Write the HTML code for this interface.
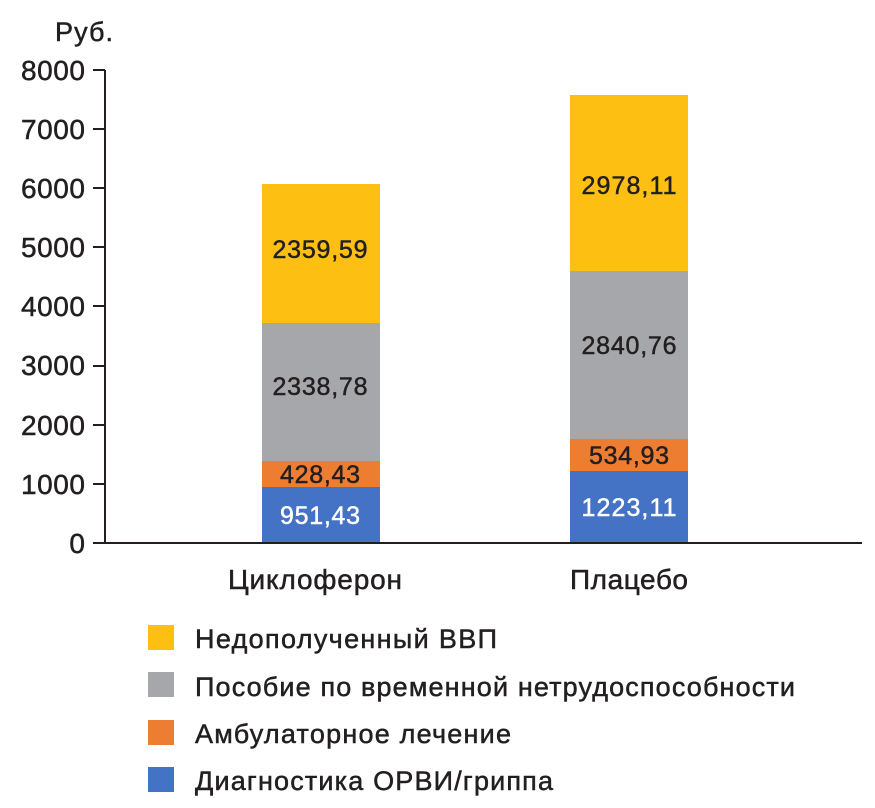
<!DOCTYPE html>
<html><head><meta charset="utf-8"><style>
body{margin:0;background:#fff;}
svg text{font-family:"Liberation Sans",sans-serif;fill:#231f20;stroke:#231f20;stroke-width:0.5;}
svg text.w{fill:#fff;stroke:#fff;}
</style></head><body>
<svg width="875" height="803" viewBox="0 0 875 803" xmlns="http://www.w3.org/2000/svg">
<text x="55" y="41" font-size="27" textLength="58">Руб.</text>
<g font-size="28" text-anchor="end">
<text x="85" y="80" textLength="64">8000</text><text x="85" y="139" textLength="64">7000</text><text x="85" y="198" textLength="64">6000</text>
<text x="85" y="257" textLength="64">5000</text><text x="85" y="316" textLength="64">4000</text><text x="85" y="375" textLength="64">3000</text>
<text x="85" y="435" textLength="64">2000</text><text x="85" y="494" textLength="64">1000</text><text x="85" y="553">0</text>
</g>
<g stroke="#231f20" stroke-width="2">
<line x1="105" y1="70" x2="105" y2="543"/>
<line x1="93" y1="543" x2="862" y2="543"/>
<line x1="93" y1="70" x2="105" y2="70"/><line x1="93" y1="129" x2="105" y2="129"/>
<line x1="93" y1="188" x2="105" y2="188"/><line x1="93" y1="247" x2="105" y2="247"/>
<line x1="93" y1="306" x2="105" y2="306"/><line x1="93" y1="366" x2="105" y2="366"/>
<line x1="93" y1="425" x2="105" y2="425"/><line x1="93" y1="484" x2="105" y2="484"/>
</g>
<rect x="262" y="184" width="118" height="139.5" fill="#fdbf12"/>
<rect x="262" y="323" width="118" height="138.5" fill="#a6a7aa"/>
<rect x="262" y="461" width="118" height="26" fill="#ed7d31"/>
<rect x="262" y="487" width="118" height="55" fill="#4472c4"/>
<rect x="570" y="95" width="118" height="176.5" fill="#fdbf12"/>
<rect x="570" y="271" width="118" height="168.5" fill="#a6a7aa"/>
<rect x="570" y="439" width="118" height="32" fill="#ed7d31"/>
<rect x="570" y="471" width="118" height="71" fill="#4472c4"/>
<g font-size="25" text-anchor="middle">
<text x="320" y="258" textLength="95">2359,59</text>
<text x="320" y="395" textLength="95">2338,78</text>
<text x="320" y="483" textLength="80">428,43</text>
<text x="320" y="524" textLength="80" class="w">951,43</text>
<text x="629" y="194" textLength="95">2978,11</text>
<text x="629" y="354" textLength="95">2840,76</text>
<text x="629" y="464" textLength="80">534,93</text>
<text x="629" y="516" textLength="95" class="w">1223,11</text>
</g>
<g font-size="28" text-anchor="middle">
<text x="315" y="589" textLength="174">Циклоферон</text>
<text x="629" y="589" textLength="118">Плацебо</text>
</g>
<rect x="148" y="625" width="26" height="25" fill="#fdbf12"/>
<rect x="148" y="672" width="26" height="25" fill="#a6a7aa"/>
<rect x="148" y="720" width="26" height="25" fill="#ed7d31"/>
<rect x="148" y="767" width="26" height="25" fill="#4472c4"/>
<g font-size="27">
<text x="195" y="648" textLength="302">Недополученный ВВП</text>
<text x="195" y="696" textLength="600">Пособие по временной нетрудоспособности</text>
<text x="195" y="743" textLength="316">Амбулаторное лечение</text>
<text x="195" y="790" textLength="358">Диагностика ОРВИ/гриппа</text>
</g>
</svg>
</body></html>
